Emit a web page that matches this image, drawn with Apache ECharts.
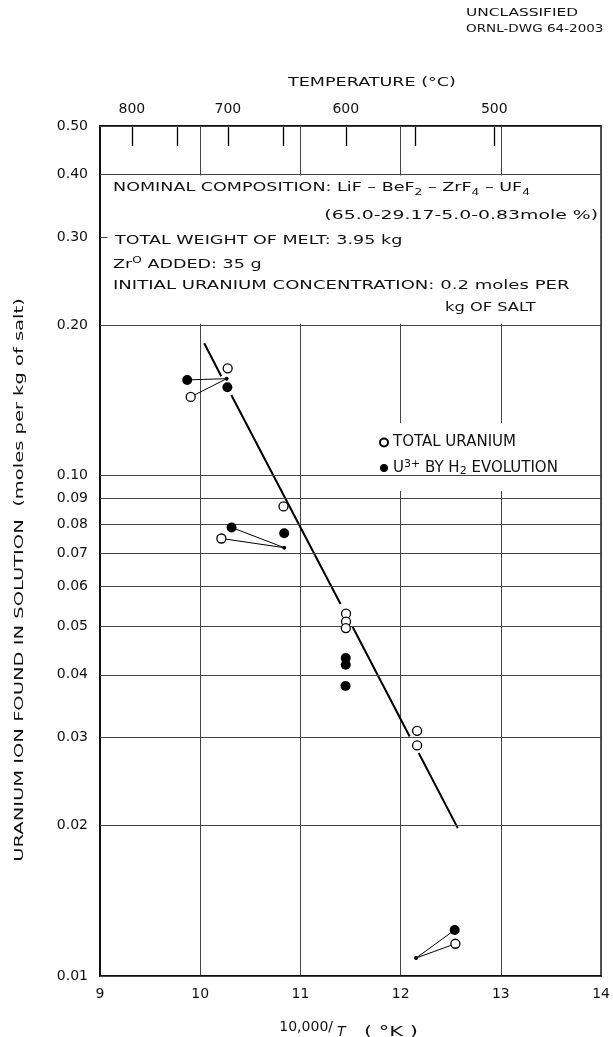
<!DOCTYPE html>
<html>
<head>
<meta charset="utf-8">
<script src="https://cdn.jsdelivr.net/npm/echarts@6/dist/echarts.min.js"></script>
<style>
html,body{margin:0;padding:0;background:#fff;}
#chart{width:613px;height:1037px;}
</style>
</head>
<body>
<div id="chart"></div>
<script>
// ---------- data ----------
const xTicks = [9, 10, 11, 12, 13, 14];
const yTicks = [0.5, 0.4, 0.3, 0.2, 0.1, 0.09, 0.08, 0.07, 0.06, 0.05, 0.04, 0.03, 0.02, 0.01];
const tempTicks = [800, 750, 700, 650, 600, 550, 500];   // deg C
const tempLabels = [800, 700, 600, 500];                 // deg C

const totalUranium = [
  [10.274, 0.1639], [9.905, 0.1437], [10.831, 0.0868], [10.211, 0.0749],
  [11.455, 0.0530], [11.455, 0.0511], [11.453, 0.0496],
  [12.164, 0.0309], [12.164, 0.0289], [12.546, 0.0116]
];
const u3Evolution = [
  [9.870, 0.1554], [10.271, 0.1502], [10.313, 0.0788], [10.838, 0.0767],
  [11.452, 0.0432], [11.452, 0.0419], [11.450, 0.0380], [12.539, 0.01236]
];
const junctionDots = [[10.264, 0.1563], [10.838, 0.0718], [12.154, 0.01086]];
const leaderLines = [
  [[9.870, 0.1554], [10.264, 0.1563]],
  [[9.905, 0.1437], [10.264, 0.1563]],
  [[10.313, 0.0788], [10.838, 0.0718]],
  [[10.211, 0.0749], [10.838, 0.0718]],
  [[12.539, 0.01236], [12.154, 0.01086]],
  [[12.546, 0.0116], [12.154, 0.01086]]
];
const fitSegments = [
  [[10.04, 0.184], [10.21, 0.158]],
  [[10.31, 0.145], [11.40, 0.0554]],
  [[11.52, 0.0499], [12.09, 0.0301]],
  [[12.18, 0.0279], [12.57, 0.01975]]
];
const noteBox = [[9.075, 0.398], [13.99, 0.2012]];

const seriesNames = ['TOTAL URANIUM', 'U3+ BY H2 EVOLUTION'];

// ---------- helpers ----------
const FONT = 'DejaVu Sans';
const INK = '#111';
const toInvT = t => 10000 / (t + 273.15);
function withGaps(segs) {
  const out = [];
  segs.forEach((s, i) => { if (i) out.push(['-', '-']); s.forEach(p => out.push(p)); });
  return out;
}
function gtext(x, y, text, o) {
  o = o || {};
  return {
    type: 'text', x: x, y: y, z: 100, silent: true,
    rotation: o.rotation || 0,
    scaleX: o.scaleX || 1, scaleY: 1,
    style: {
      text: text, fill: INK, fontFamily: FONT,
      fontSize: o.fontSize || 13, fontStyle: o.fontStyle || 'normal',
      textAlign: o.align || 'left', verticalAlign: 'middle',
      rich: o.rich
    }
  };
}
const richBase = (fs) => ({
  a: { fontSize: fs, fontFamily: FONT, fill: INK, lineHeight: 18, verticalAlign: 'middle' },
  s: { fontSize: fs - 4, fontFamily: FONT, fill: INK, lineHeight: 10, verticalAlign: 'bottom' },
  p: { fontSize: fs - 4, fontFamily: FONT, fill: INK, lineHeight: 10, verticalAlign: 'top' }
});

const chart = echarts.init(document.getElementById('chart'), null, { renderer: 'canvas' });

const option = {
  animation: false,
  backgroundColor: '#fff',
  grid: { left: 100, right: 10, top: 126, bottom: 61, show: true, borderColor: '#000', borderWidth: 1.5, backgroundColor: 'transparent' },
  xAxis: [
    {
      type: 'value', min: xTicks[0], max: xTicks[xTicks.length - 1], interval: 1,
      axisLine: { show: true, onZero: false, lineStyle: { color: '#000', width: 1.5 } },
      axisTick: { show: false },
      axisLabel: { fontFamily: FONT, fontSize: 14, color: INK, margin: 11 },
      splitLine: { show: true, lineStyle: { color: '#444', width: 1 } }
    },
    {
      type: 'value', position: 'top', min: xTicks[0], max: xTicks[xTicks.length - 1],
      axisLine: { show: true, onZero: false, lineStyle: { color: '#000', width: 1.5 } },
      axisTick: { show: true, inside: true, length: 20, customValues: tempTicks.map(toInvT), lineStyle: { color: '#000', width: 1.3 } },
      axisLabel: { show: true, customValues: tempLabels.map(toInvT), fontFamily: FONT, fontSize: 14, color: INK, margin: 10,
        formatter: v => String(Math.round((10000 / v - 273.15) / 50) * 50) },
      splitLine: { show: false }
    }
  ],
  yAxis: {
    type: 'log', logBase: 10, min: yTicks[yTicks.length - 1], max: yTicks[0],
    axisLine: { show: true, onZero: false, lineStyle: { color: '#000', width: 1.5 } },
    axisTick: { show: false }, axisLabel: { show: false }, splitLine: { show: false }, minorSplitLine: { show: false }
  },
  legend: {
    data: seriesNames,
    orient: 'vertical', left: 373, top: 423,
    padding: [12, 36, 14, 6], itemGap: 9, itemWidth: 8, itemHeight: 8,
    backgroundColor: '#fff', icon: 'circle', selectedMode: false,
    textStyle: { fontFamily: FONT, fontSize: 15, color: INK, rich: richBase(15) },
    formatter: name => name === seriesNames[1]
      ? '{a|U}{p|3+}{a| BY H}{s|2}{a| EVOLUTION}'
      : '{a|' + name + '}'
  },
  series: [
    { // grid lines + y tick labels of the log axis
      type: 'scatter', name: 'grid', data: [], z: 1, silent: true,
      markLine: {
        silent: true, symbol: ['none', 'none'], animation: false,
        lineStyle: { color: '#444', width: 1, type: 'solid' },
        label: { show: true, position: 'start', distance: 12, fontFamily: FONT, fontSize: 14, color: INK,
          formatter: p => Number(p.value).toFixed(2) },
        emphasis: { disabled: true },
        data: yTicks.map(v => ({ yAxis: v }))
      }
    },
    {
      type: 'line', name: 'fit', data: withGaps(fitSegments), z: 3, silent: true,
      symbol: 'none', connectNulls: false, lineStyle: { color: '#000', width: 2 }
    },
    {
      type: 'line', name: 'leaders', data: withGaps(leaderLines), z: 3, silent: true,
      symbol: 'none', connectNulls: false, lineStyle: { color: '#000', width: 1 }
    },
    {
      type: 'scatter', name: 'junction', data: junctionDots, z: 4, silent: true,
      symbol: 'circle', symbolSize: 4, itemStyle: { color: '#000', opacity: 1 }
    },
    {
      type: 'scatter', name: seriesNames[0], data: totalUranium, z: 5,
      symbol: 'circle', symbolSize: 9,
      itemStyle: { color: '#fff', borderColor: '#000', borderWidth: 1.3, opacity: 1 }
    },
    {
      type: 'scatter', name: seriesNames[1], data: u3Evolution, z: 6,
      symbol: 'circle', symbolSize: 10,
      itemStyle: { color: '#000', opacity: 1 }
    }
  ]
};
chart.setOption(option);

// white note box placed through the chart's own scales
const b0 = chart.convertToPixel({ gridIndex: 0 }, noteBox[0]);
const b1 = chart.convertToPixel({ gridIndex: 0 }, noteBox[1]);

chart.setOption({
  graphic: [
    { type: 'rect', z: 50, silent: true,
      shape: { x: Math.min(b0[0], b1[0]), y: Math.min(b0[1], b1[1]), width: Math.abs(b1[0] - b0[0]), height: Math.abs(b1[1] - b0[1]) },
      style: { fill: '#fff', stroke: null } },
    gtext(466, 13, 'UNCLASSIFIED', { fontSize: 11, scaleX: 1.4 }),
    gtext(466, 29, 'ORNL-DWG 64-2003', { fontSize: 11, scaleX: 1.23 }),
    gtext(372, 83, 'TEMPERATURE (°C)', { fontSize: 13, scaleX: 1.35, align: 'center' }),
    gtext(113, 188, '{a|NOMINAL COMPOSITION: LiF – BeF}{s|2}{a| – ZrF}{s|4}{a| – UF}{s|4}', { scaleX: 1.35, rich: richBase(13) }),
    gtext(598, 216, '(65.0-29.17-5.0-0.83mole %)', { scaleX: 1.45, align: 'right' }),
    gtext(115, 241, 'TOTAL WEIGHT OF MELT: 3.95 kg', { scaleX: 1.35 }),
    gtext(113, 265, '{a|Zr}{p|O}{a| ADDED: 35 g}', { scaleX: 1.35, rich: richBase(13) }),
    gtext(113, 286, 'INITIAL URANIUM CONCENTRATION: 0.2 moles PER', { scaleX: 1.39 }),
    gtext(445, 308, 'kg OF SALT', { scaleX: 1.25 }),
    gtext(20, 580, 'URANIUM ION FOUND IN SOLUTION  (moles per kg of salt)', { scaleX: 1.5, align: 'center', rotation: Math.PI / 2 }),
    gtext(333, 1027, '10,000/', { fontSize: 14, align: 'right' }),
    gtext(337, 1032, 'T', { fontSize: 14, fontStyle: 'italic' }),
    gtext(364, 1032, '( °K )', { fontSize: 14, scaleX: 1.5 })
  ]
});
</script>
</body>
</html>
